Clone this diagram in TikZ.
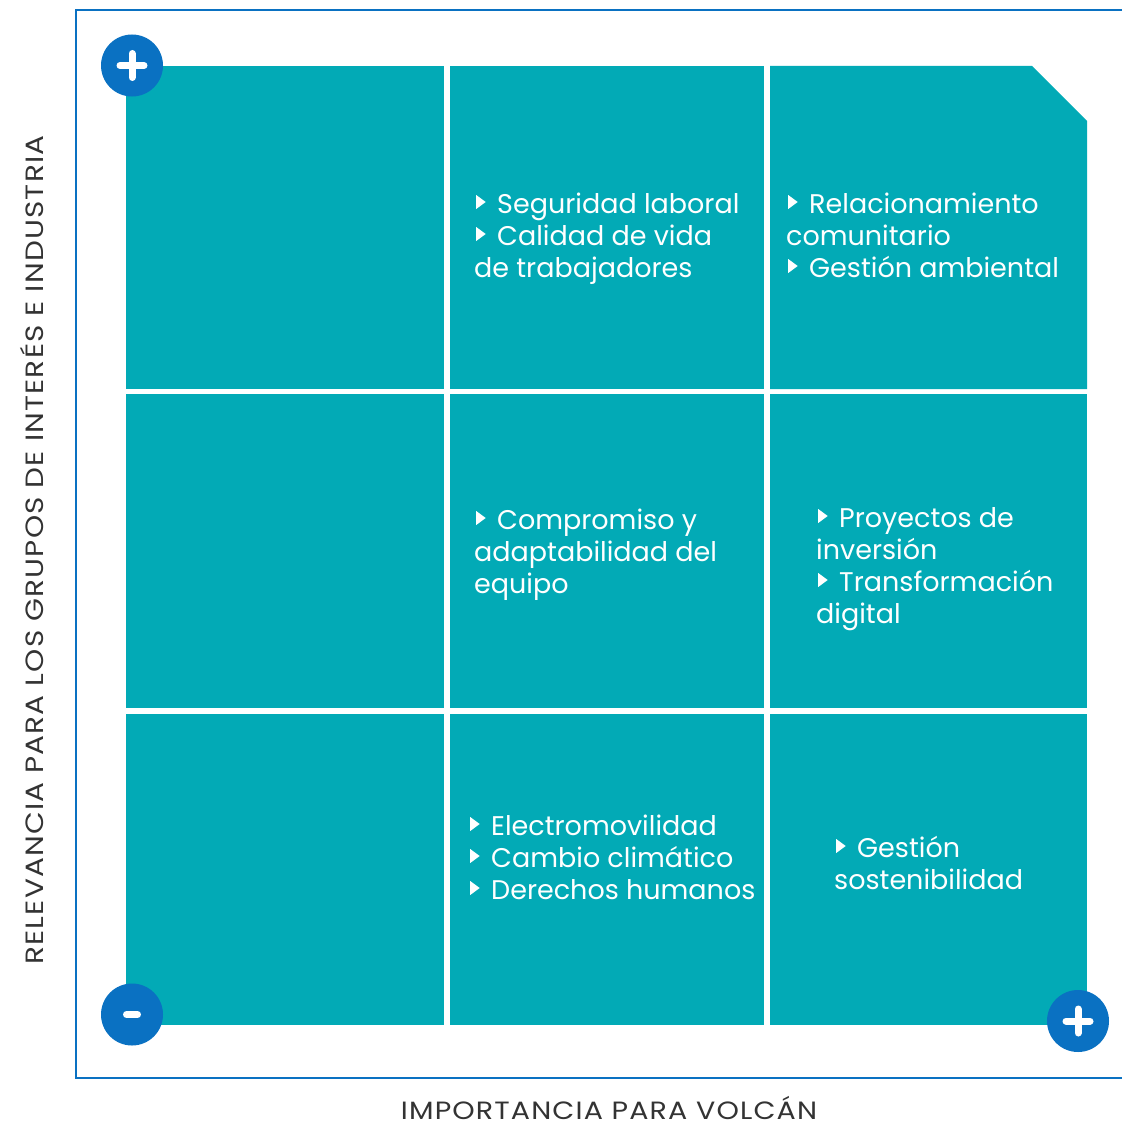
\documentclass[tikz,border=0pt]{standalone}
\usepackage{fontspec}
\setmainfont{Poppins}
\definecolor{teal}{HTML}{02AAB6}
\definecolor{mblue}{HTML}{0A71C2}
\definecolor{axistext}{HTML}{333333}
\newcommand{\tribul}{\tikz[baseline=0pt,x=1pt,y=1pt]\fill[white] (0,4) -- (0,18) -- (9.5,11) -- cycle;}
\newcommand{\itm}{\hspace*{2pt}\tribul\hspace{11.5pt}}
\begin{document}
\begin{tikzpicture}[x=1pt,y=-1pt,
  cell/.style={fill=teal},
  celltext/.style={text=white,align=left,anchor=base west,inner sep=0pt,font=\fontsize{27}{32}\selectfont},
  axislabel/.style={text=axistext,inner sep=0pt,text depth=0pt,font=\fontsize{25}{30}\selectfont\addfontfeature{LetterSpace=4}},
  badge/.style={fill=mblue},
  sign/.style={draw=white,line width=7pt,line cap=round}]
\useasboundingbox (0,0) rectangle (1122,1124);
% frame
\draw[mblue,line width=2.5pt] (1122,10) -- (76,10) -- (76,1078) -- (1122,1078);
% cells
\fill[cell] (126,66) rectangle (444,389);
\fill[cell] (450,66) rectangle (764,389);
\fill[cell] (770,66) -- (1032,66) -- (1087,121) -- (1087,389) -- (770,389) -- cycle;
\fill[cell] (126,394) rectangle (444,708);
\fill[cell] (450,394) rectangle (764,708);
\fill[cell] (770,394) rectangle (1087,708);
\fill[cell] (126,714) rectangle (444,1025);
\fill[cell] (450,714) rectangle (764,1025);
\fill[cell] (770,714) rectangle (1087,1025);
% texts (anchor = baseline of the last line)
\node[celltext] (t12) at (474,277) {\itm Seguridad laboral\\\itm Calidad de vida\\de trabajadores};
\node[celltext] (t13) at (786,277) {\itm Relacionamiento\\comunitario\\\itm Gestión ambiental};
\node[celltext] (t22) at (474,593) {\itm Compromiso y\\adaptabilidad del\\equipo};
\node[celltext] (t23) at (816,623) {\itm Proyectos de\\inversión\\\itm Transformación\\digital};
\node[celltext] (t32) at (468,899) {\itm Electromovilidad\\\itm Cambio climático\\\itm Derechos humanos};
\node[celltext] (t33) at (834,889) {\itm Gestión\\sostenibilidad};
% badges
\fill[badge] (132,65.5) circle (31);
\draw[sign] (120,65.5) -- (144,65.5) (132,53.5) -- (132,77.5);
\fill[badge] (132,1014.5) circle (31);
\draw[sign] (126.5,1014.5) -- (137.5,1014.5);
\fill[badge] (1078,1021) circle (31);
\draw[sign] (1066,1021) -- (1090,1021) (1078,1009) -- (1078,1033);
% axis labels
\node[axislabel,anchor=base,xscale=1.14] (xlab) at (609,1119) {IMPORTANCIA PARA VOLCÁN};
\node[axislabel,anchor=base,rotate=90,xscale=1.18] (ylab) at (43,550) {RELEVANCIA PARA LOS GRUPOS DE INTERÉS E INDUSTRIA};
\end{tikzpicture}
\end{document}
